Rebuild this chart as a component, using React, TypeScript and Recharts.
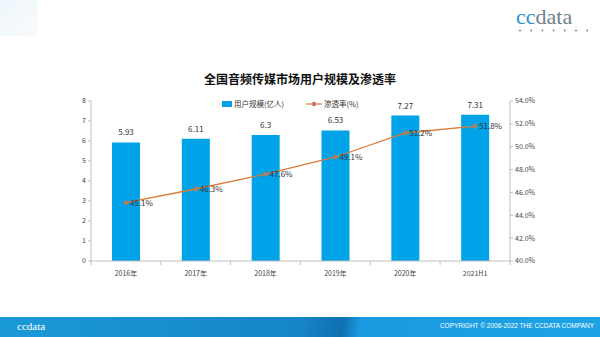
import {
  ComposedChart,
  Bar,
  Line,
  XAxis,
  YAxis,
  LabelList,
} from 'recharts';

const categories = ['2016年', '2017年', '2018年', '2019年', '2020年', '2021H1'];
const userScale = [5.93, 6.11, 6.3, 6.53, 7.27, 7.31];
const penetration = [45.1, 46.3, 47.6, 49.1, 51.2, 51.8];
const leftTicks = [0, 1, 2, 3, 4, 5, 6, 7, 8];
const rightTicks = [40, 42, 44, 46, 48, 50, 52, 54];

const data = categories.map((name, i) => ({
  name,
  users: userScale[i],
  rate: penetration[i],
}));

const BAR_COLOR = '#00a2e8';
const LINE_COLOR = '#dc7a35';
const AXIS_COLOR = '#bfbfbf';
const FONT = '"Noto Sans CJK SC", "Noto Sans", sans-serif';
const SERIF = '"Liberation Serif", "DejaVu Serif", serif';

function CategoryTick(props: any) {
  const { x, y, payload, index } = props;
  const half = 35;
  return (
    <g>
      <line x1={x - half} y1={y - 8} x2={x - half} y2={y - 4} stroke={AXIS_COLOR} />
      {index === categories.length - 1 && (
        <line x1={x + half} y1={y - 8} x2={x + half} y2={y - 4} stroke={AXIS_COLOR} />
      )}
      <text x={x} y={y + 7} textAnchor="middle" fontSize={7} fill="#444" fontFamily={FONT}>
        {payload.value}
      </text>
    </g>
  );
}

function Logo({ color, size }: { color?: string; size: number }) {
  return (
    <div style={{ fontFamily: SERIF, fontSize: size, lineHeight: 1, whiteSpace: 'nowrap' }}>
      <span style={{ color: color ?? '#2b8fc7' }}>cc</span>
      <span style={{ color: color ?? '#6f7f8a' }}>data</span>
    </div>
  );
}

export default function App() {
  return (
    <div
      style={{
        position: 'fixed',
        left: 0,
        top: 0,
        width: 600,
        height: 337,
        background: '#fff',
        overflow: 'hidden',
        fontFamily: FONT,
      }}
    >
      <div
        style={{
          position: 'absolute',
          left: 0,
          top: 0,
          width: 38,
          height: 36,
          background: 'linear-gradient(135deg, #eef6fb, #f8fbfd)',
        }}
      />
      <div style={{ position: 'absolute', left: 516, top: 6 }}>
        <Logo size={22} />
      </div>
      <svg style={{ position: 'absolute', left: 518, top: 29 }} width={72} height={3}>
        {[0, 1, 2, 3, 4, 5, 6].map((i) => (
          <circle key={i} cx={2 + i * 11.2} cy={1.5} r={0.9} fill="#6f7f8a" />
        ))}
      </svg>

      <div
        style={{
          position: 'absolute',
          left: 0,
          width: 600,
          top: 70,
          textAlign: 'center',
          fontSize: 12,
          fontWeight: 'bold',
          color: '#111',
        }}
      >
        全国音频传媒市场用户规模及渗透率
      </div>

      <div
        style={{
          position: 'absolute',
          left: 222,
          top: 98,
          display: 'flex',
          alignItems: 'center',
          fontSize: 7.5,
          color: '#333',
        }}
      >
        <div style={{ width: 10, height: 6, background: BAR_COLOR, marginRight: 2 }} />
        <span>用户规模(亿人)</span>
        <svg width={16} height={8} style={{ marginLeft: 22, marginRight: 2 }}>
          <line x1={0} y1={4} x2={16} y2={4} stroke={LINE_COLOR} strokeWidth={1.2} />
          <circle cx={8} cy={4} r={2} fill="#a08070" stroke={LINE_COLOR} strokeWidth={0.6} />
        </svg>
        <span>渗透率(%)</span>
      </div>

      <div style={{ position: 'absolute', left: 0, top: 0 }}>
        <ComposedChart
          width={600}
          height={337}
          data={data}
          margin={{ top: 101, right: 45, bottom: 56, left: 61 }}
        >
          <XAxis
            dataKey="name"
            xAxisId="x"
            axisLine={{ stroke: AXIS_COLOR }}
            tickLine={false}
            tick={<CategoryTick />}
            height={20}
            interval={0}
          />
          <YAxis
            yAxisId="left"
            orientation="left"
            domain={[0, 8]}
            ticks={leftTicks}
            width={30}
            axisLine={{ stroke: AXIS_COLOR }}
            tickLine={{ stroke: AXIS_COLOR }}
            tickSize={3}
            tick={{ fontSize: 7, fill: '#444', fontFamily: FONT }}
            interval={0}
          />
          <YAxis
            yAxisId="right"
            orientation="right"
            domain={[40, 54]}
            ticks={rightTicks}
            width={45}
            axisLine={{ stroke: AXIS_COLOR }}
            tickLine={{ stroke: AXIS_COLOR }}
            tickSize={3}
            tickFormatter={(v: number) => `${v.toFixed(1)}%`}
            tick={{ fontSize: 7, fill: '#444', fontFamily: FONT }}
            interval={0}
          />
          <Bar
            xAxisId="x"
            yAxisId="left"
            dataKey="users"
            fill={BAR_COLOR}
            barSize={28}
            isAnimationActive={false}
          >
            <LabelList
              dataKey="users"
              position="top"
              offset={7}
              style={{ fontSize: 8, fill: '#333', fontFamily: FONT }}
            />
          </Bar>
          <Line
            xAxisId="x"
            yAxisId="right"
            dataKey="rate"
            stroke={LINE_COLOR}
            strokeWidth={1.3}
            dot={{ r: 2, fill: '#a08070', stroke: LINE_COLOR, strokeWidth: 0.6 }}
            isAnimationActive={false}
          >
            <LabelList
              dataKey="rate"
              position="right"
              offset={4}
              formatter={(v: number) => `${v}%`}
              style={{ fontSize: 8, fill: '#333', fontFamily: FONT }}
            />
          </Line>
        </ComposedChart>
      </div>

      <div
        style={{
          position: 'absolute',
          left: 0,
          top: 317,
          width: 600,
          height: 20,
          background: 'linear-gradient(100deg, #1b9ad8 0%, #1585c6 50%, #0f6fb0 57%, #1a9ae0 60%, #1ea3e6 100%)',
        }}
      >
        <div style={{ position: 'absolute', left: 17, top: 4 }}>
          <Logo size={11} color="#ffffff" />
        </div>
        <div
          style={{
            position: 'absolute',
            right: 6,
            top: 6,
            fontSize: 6.5,
            lineHeight: 1,
            color: '#ffffff',
            fontFamily: '"Liberation Sans", sans-serif',
          }}
        >
          COPYRIGHT © 2006-2022 THE CCDATA COMPANY
        </div>
      </div>
    </div>
  );
}
